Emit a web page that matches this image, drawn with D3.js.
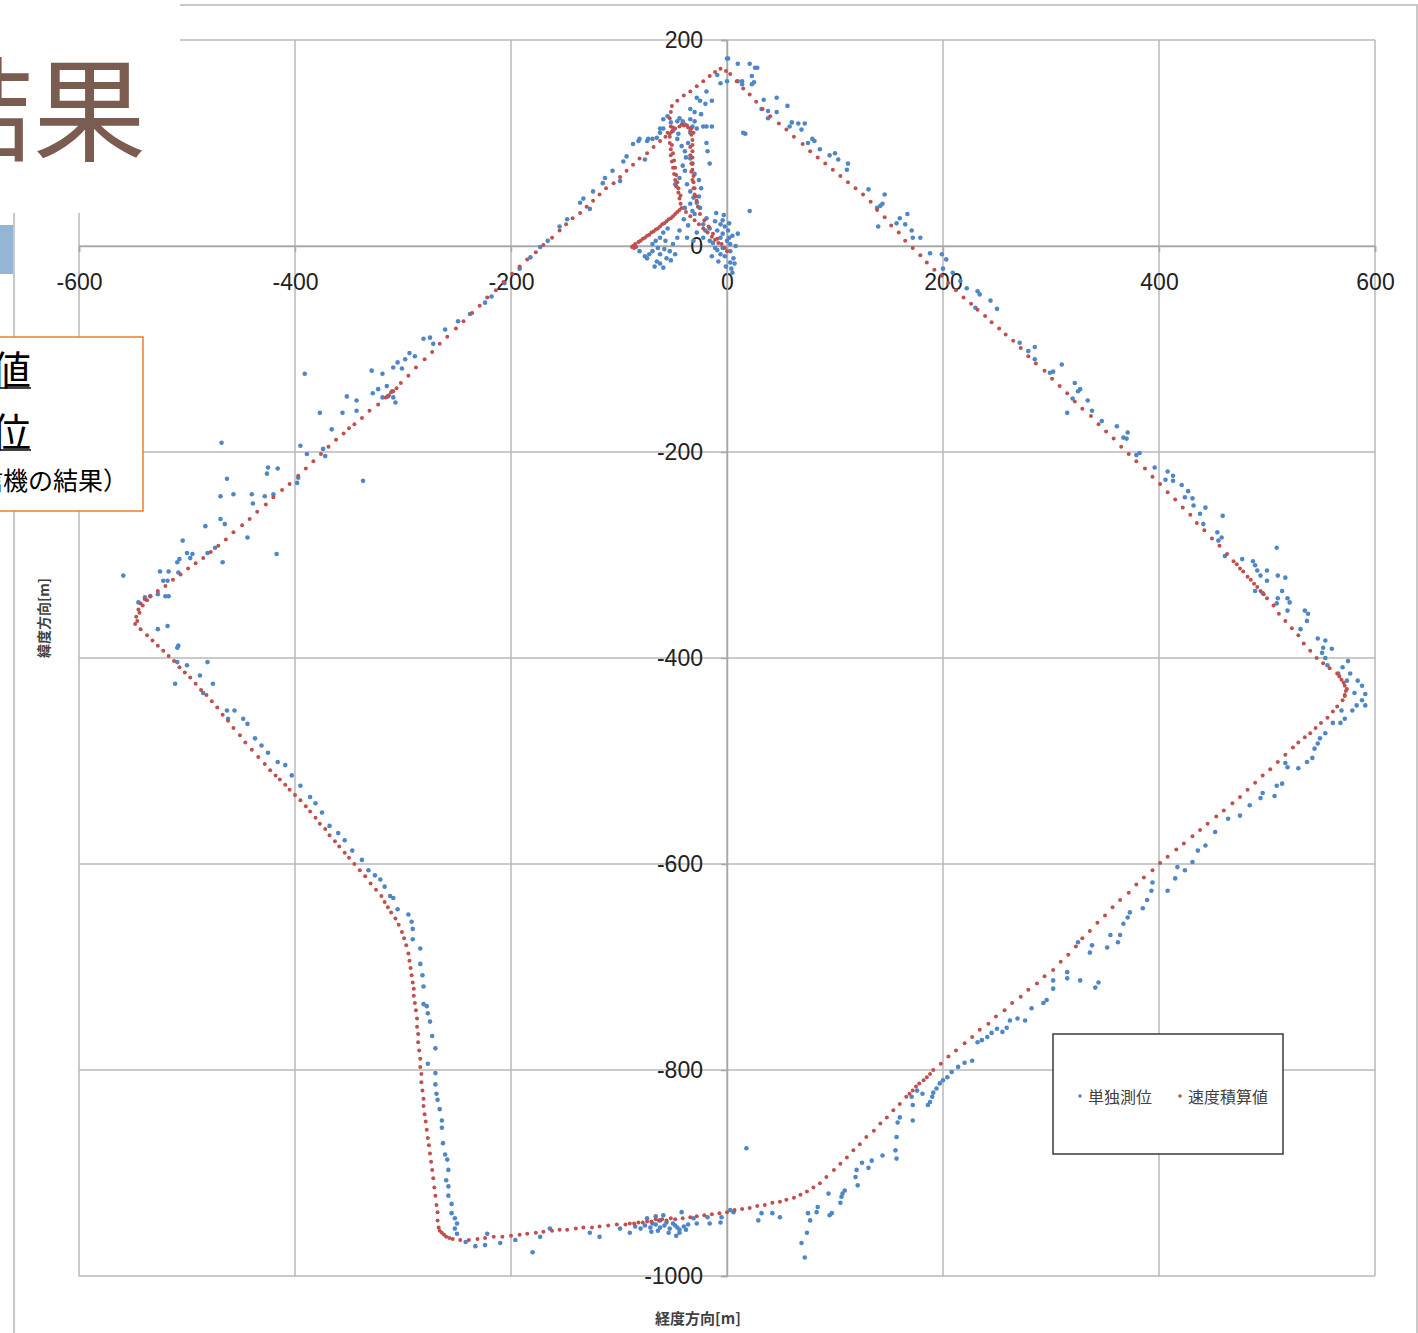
<!DOCTYPE html>
<html><head><meta charset="utf-8">
<script src="https://cdn.jsdelivr.net/npm/d3@7"></script>
<style>body{margin:0;background:#fff;}svg{display:block;}</style>
</head><body>
<svg id="chart" width="1418" height="1333"></svg>
<script>
const xTicks = [-600,-400,-200,0,200,400,600];
const yTicks = [200,0,-200,-400,-600,-800,-1000];
const seriesNames = ["単独測位","速度積算値"];
const xTitle = "経度方向[m]";
const yTitle = "緯度方向[m]";

// 単独測位 (blue)
const standalone = [
[10,177],[21,177],[28,173],[23,165],[14,160],[25,159],[34,142],[46,144],[32,133],[38,131],[46,130],[56,136],[38,124],[60,120],[66,119],[72,119],[58,116],[69,113],[17,109],[79,104],[81,102],[75,100],[86,94],[95,88],[100,90],[103,84],[112,80],[111,74],[131,55],[146,50],[142,39],[139,37],[144,41],[21,34],[160,27],[167,31],[157,22],[165,21],[140,19],[171,15],[172,8],[179,8],[10,12],[188,-7],[199,-8],[203,-13],[200,-22],[209,-26],[216,-34],[222,-41],[232,-44],[234,-47],[230,-60],[244,-53],[250,-61],[271,-94],[285,-98],[279,-102],[285,-110],[310,-115],[302,-122],[299,-123],[322,-133],[327,-139],
[325,-141],[320,-148],[334,-150],[315,-162],[338,-160],[347,-170],[361,-175],[371,-181],[367,-186],[370,-187],[382,-201],[379,-203],[396,-215],[408,-219],[413,-223],[406,-227],[413,-228],[421,-232],[427,-238],[424,-244],[431,-245],[432,-252],[443,-254],[438,-260],[459,-262],[441,-270],[454,-278],[458,-283],[455,-286],[461,-301],[477,-304],[487,-306],[489,-310],[491,-315],[494,-320],[500,-315],[509,-293],[510,-320],[517,-322],[500,-325],[489,-335],[496,-337],[514,-335],[510,-342],[519,-342],[509,-347],[521,-346],[519,-354],[535,-354],[538,-357],[537,-364],[531,-372],[547,-381],[554,-383],[552,-390],[560,-391],[551,-395],[554,-400],[575,-403],[570,-409],[556,-407],[566,-415],[577,-415],[574,-422],[584,-422],[588,-427],[581,-434],[591,-435],[588,-441],[583,-446],[591,-446],[579,-451],[569,-451],[572,-459],[561,-463],[568,-463],[554,-473],[549,-478],[547,-483],[544,-488],[542,-497],[537,-501],[529,-507],[519,-506],[517,-502],[514,-522],[509,-524],[496,-531],[494,-536],[507,-534],[484,-543],[475,-553],[464,-556],[452,-569],[443,-582],
[436,-587],[431,-598],[417,-603],[424,-606],[415,-614],[408,-626],[394,-618],[393,-626],[389,-635],[385,-643],[373,-647],[371,-652],[367,-658],[355,-669],[364,-669],[362,-676],[352,-681],[338,-679],[336,-686],[325,-676],[315,-705],[315,-711],[327,-713],[344,-715],[341,-720],[302,-713],[302,-721],[296,-732],[293,-735],[282,-740],[276,-752],[269,-750],[262,-752],[259,-759],[255,-763],[250,-760],[245,-764],[241,-768],[236,-771],[232,-773],[227,-791],[220,-793],[214,-797],[208,-802],[204,-807],[200,-810],[197,-813],[194,-818],[191,-822],[190,-826],[188,-831],[186,-834],[181,-823],[176,-820],[172,-834],[171,-826],[172,-849],[160,-846],[158,-851],[157,-865],[156,-878],[157,-886],[144,-883],[134,-888],[131,-895],[125,-890],[120,-897],[121,-912],[119,-904],[109,-917],[106,-923],[105,-929],[94,-920],[95,-941],[84,-933],[83,-938],[75,-939],[77,-946],[74,-958],[69,-968],[72,-982],
[-69,-949],[-62,-946],[-56,-948],[-50,-949],[-62,-953],[-53,-954],[-46,-953],[-44,-955],[-44,-958],[-71,-953],[-76,-951],[-59,-941],[-42,-938],[-31,-944],[-28,-949],[-16,-949],[-18,-943],[-6,-948],[-5,-943],[3,-936],[6,-938],[29,-946],[32,-939],[42,-939],[49,-943],[-118,-962],[97,-939],[107,-920],[18,-876],
[-66,-950],[-58,-951],[-48,-951],[-40,-952],[-36,-950],[-64,-956],[-70,-957],[-80,-954],[-85,-952],[-54,-958],[-47,-961],[-38,-955],[-74,-944],[-66,-942],
[-233,-971],[-224,-970],[-222,-959],[-180,-977],[-173,-962],[-164,-954],[-210,-968],[-196,-965],[-127,-958],[-99,-954],[-90,-958],[-242,-967],
[-338,-596],[-332,-606],[-326,-611],[-321,-615],[-317,-622],[-312,-631],[-309,-633],[-305,-644],[-295,-649],[-292,-656],[-291,-663],[-291,-673],[-284,-682],[-284,-697],[-282,-708],[-281,-719],[-281,-736],[-278,-738],[-277,-745],[-275,-753],[-273,-767],[-270,-779],[-277,-794],[-270,-803],[-270,-814],[-269,-823],[-268,-829],[-266,-838],[-264,-849],[-264,-856],[-263,-871],[-261,-882],[-259,-887],[-258,-897],[-260,-907],[-258,-913],[-258,-922],[-255,-930],[-255,-939],[-252,-944],[-250,-949],[-252,-954],[-250,-959],
[-527,-372],[-518,-369],[-508,-388],[-509,-390],[-509,-404],[-500,-407],[-481,-404],[-511,-425],[-488,-417],[-476,-425],[-485,-434],[-463,-451],[-456,-451],[-462,-459],[-448,-459],[-444,-464],[-437,-478],[-431,-485],[-425,-492],[-416,-501],[-409,-504],[-403,-514],[-395,-524],[-386,-535],[-381,-541],[-375,-550],[-368,-563],[-360,-570],[-354,-577],[-347,-587],
[-559,-320],[-545,-346],[-539,-341],[-534,-340],[-527,-338],[-520,-340],[-517,-340],[-525,-316],[-517,-316],[-508,-317],[-522,-325],[-518,-325],[-509,-307],[-507,-304],[-504,-286],[-500,-298],[-495,-299],[-497,-303],[-483,-272],[-469,-265],[-465,-270],[-474,-293],[-481,-298],[-467,-307],[-444,-283],[-440,-241],[-439,-250],[-457,-241],[-463,-226],[-469,-243],[-428,-243],[-420,-241],[-425,-215],[-426,-221],[-416,-216],[-417,-299],[-468,-191],[-395,-194],[-389,-202],[-372,-204],[-374,-197],[-398,-230],[-397,-225],[-391,-124],[-377,-162],[-366,-178],[-356,-162],[-352,-146],[-343,-150],[-343,-160],[-337,-228],[-329,-121],[-328,-143],[-323,-139],[-319,-124],[-315,-136],[-310,-141],[-309,-147],[-307,-152],[-314,-146],[-319,-147],[-309,-118],[-305,-113],[-301,-119],[-294,-104],[-298,-110],[-289,-107],[-281,-90],[-275,-89],[-272,-95],
[-261,-81],[-249,-73],[-238,-66],[-224,-55],[-218,-49],[-206,-36],[-192,-22],[-182,-11],[-173,-1],[-166,5],
[-155,19],[-148,26],[-136,42],[-133,46],[-124,53],[-115,61],[-113,66],[-106,73],[-96,82],[-93,87],[-87,99],[-82,102],[-81,104],[-73,104],[-65,105],[-62,114],[-59,123],[-127,36],[-99,63],[-76,84],
[1,182],[-9,166],[-6,158],[0,160],[10,160],[14,157],[23,157],[-19,150],[-28,144],[-25,141],[-14,141],[-20,138],[-34,133],[-44,124],[-46,121],[-41,121],[-34,123],[-30,121],[-39,118],[-32,116],[-28,114],[-22,116],[-14,116],[-59,114],[-62,110],[-50,112],[-45,109],[-34,110],[-69,104],[-74,102],[-19,100],[-18,92],[-16,80],[-42,97],[-39,92],[-34,85],[-32,80],[-30,70],[-39,73],[-44,66],[-48,60],[-37,60],[-34,53],[-31,47],[-28,42],[-34,41],[-39,37],[-32,34],[-30,31],[-25,37],[-19,27],[-22,21],[-16,17],[-9,15],[-6,21],[-4,12],[-6,8],[0,5],[3,2],[-4,-2],[3,-5],[6,-12],[7,-17],[-6,-8],[-11,-2],[-16,5],[-22,8],[-28,13],[-31,5],[-37,8],[-44,15],[-46,8],[-50,2],[-53,-5],[-56,-12],[-62,-8],[-65,-15],[-69,-5],[-69,2],[-62,8],[-59,13],[-55,17],[-62,-17],[-59,-21],[-74,-12],[15,110],[-19,116],[-81,-5],[-76,-10],[-2,19],[1,15],[5,10],[-2,-10],[3,-16],[-8,-15],[-14,-10],[8,0],[-11,24],[-20,15],[0,182],[26,173],
[-58,-3],[-64,-2],[-72,-8],[-67,-20],[-52,-14],[-48,-8],[-57,5],[-66,5],[-4,25],[2,22],[4,-22],[-1,-20],[5,-26],[-9,-4],[-13,3],[2,8],[-3,30],[-10,32],[-36,20],[-40,26],[-26,48],[-24,56],[-26,64],[-41,78],[-38,86],[-36,100],[-46,104],[-52,120],[-55,126],[-30,130],[-24,128]
];

// 速度積算値 (red)
const integrated = [
[-548,-367],[-547,-360],[-545,-353],[-543,-347],[-539,-343],[-534,-340],[-527,-335],[-520,-330],[-513,-324],[-506,-319],[-499,-313],[-492,-308],[-485,-303],[-478,-297],[-471,-291],[-464,-285],[-457,-278],[-449,-271],[-442,-265],[-435,-258],[-427,-251],[-420,-244],[-412,-237],[-405,-231],[-397,-223],[-390,-216],[-383,-209],[-376,-202],[-369,-195],[-362,-188],[-355,-182],[-350,-177],[-345,-173],[-338,-167],[-331,-160],[-323,-154],[-316,-147],[-309,-141],[-302,-133],[-295,-126],[-288,-118],[-280,-110],[-273,-103],[-266,-95],[-259,-88],[-251,-80],[-244,-73],[-236,-65],[-229,-58],[-222,-50],[-214,-43],[-207,-35],[-199,-27],[-192,-20],[-185,-13],[-177,-6],[-170,1],[-162,8],[-155,15],[-149,21],[-143,27],[-136,32],[-130,38],[-124,44],[-118,50],[-112,56],[-105,61],[-99,67],[-93,73],[-87,79],[-81,85],[-74,90],[-68,96],[-62,102],[-57,106],[-53,109],
[-313,-145],[-306,-138],[-311,-142],[-546,-364],[-544,-356],[-541,-349],[-537,-344],
[-52,116],[-53,124],[-52,130],[-51,136],[-46,141],[-40,146],[-34,150],[-28,155],[-22,160],[-16,165],[-11,169],[-6,172],
[-1,170],[3,167],[9,160],[15,153],[21,147],[27,140],[33,133],[40,126],[48,119],[55,113],[62,106],[70,99],[77,92],[84,86],[91,80],[98,74],[105,68],[112,62],[119,56],[126,50],[133,43],[139,35],[146,28],[152,20],[159,13],[165,5],[172,-2],[179,-9],[185,-16],[192,-23],[199,-29],[205,-36],[212,-43],[219,-50],[226,-56],[232,-62],[239,-68],[245,-74],[252,-80],[258,-86],[265,-92],[272,-99],[279,-107],[286,-114],[294,-121],[301,-129],[308,-136],[315,-143],[322,-151],[329,-158],[337,-165],[344,-173],[351,-180],[358,-187],[365,-195],[372,-202],[379,-209],[387,-216],[394,-224],[401,-231],[408,-239],[415,-246],[422,-254],[429,-261],[435,-269],[442,-276],[449,-284],[456,-291],[463,-299],[469,-306],[475,-313],[482,-321],[488,-328],[494,-335],[500,-342],[506,-349],[511,-357],[517,-364],[523,-371],[529,-378],[534,-386],[540,-393],[546,-400],[552,-405],[558,-410],[565,-415],[569,-421],[572,-427],[573,-432],
[478,-316],[485,-324],[491,-331],[472,-309],[497,-338],[567,-418],[571,-424],[574,-430],[572,-436],
[572,-437],[570,-441],[565,-447],[561,-452],[556,-458],[550,-463],[545,-468],[540,-473],[535,-477],[529,-482],[524,-487],[517,-494],[510,-501],[503,-508],[496,-514],[489,-521],[482,-528],[475,-535],[468,-541],[460,-548],[453,-554],[445,-561],[438,-567],[431,-573],[423,-580],[416,-586],[408,-593],[401,-599],[394,-606],[386,-613],[379,-620],[372,-628],[364,-635],[357,-642],[350,-650],[343,-657],[336,-665],[329,-672],[323,-680],[316,-688],[309,-695],[302,-703],[294,-709],[287,-716],[279,-722],[272,-729],[264,-735],[257,-742],[249,-748],[242,-755],[234,-761],[227,-768],[220,-774],[212,-781],[205,-787],[198,-794],[191,-800],[185,-807],[178,-813],[172,-820],[166,-826],[160,-833],[154,-839],[148,-846],[142,-852],[136,-859],[129,-865],[123,-872],[117,-878],[111,-885],[105,-891],[99,-897],[92,-904],[86,-910],[80,-914],[74,-918],[68,-921],[62,-924],[55,-926],[49,-928],
[188,-804],[182,-810],[175,-816],[169,-823],
[42,-929],[35,-931],[28,-932],[21,-934],[14,-935],[7,-936],[0,-938],[-7,-939],[-14,-940],[-21,-941],[-28,-942],[-34,-943],[-41,-944],[-48,-945],[-56,-946],[-63,-946],[-70,-947],[-78,-948],[-86,-949],[-94,-950],[-102,-950],[-110,-951],[-118,-952],[-125,-953],[-133,-953],[-140,-954],[-148,-955],[-155,-955],[-162,-956],[-170,-957],[-177,-958],[-185,-959],[-192,-960],[-200,-961],[-208,-962],[-216,-962],[-224,-963],[-231,-964],[-239,-965],[-247,-965],[-254,-964],[-260,-962],
[-52,-944],[-60,-945],[-66,-945],[-74,-947],[-82,-948],[-90,-949],[-262,-960],[-266,-956],[-257,-963],
[-264,-958],[-267,-953],[-268,-946],[-268,-938],[-269,-931],[-270,-922],[-271,-914],[-272,-905],[-273,-897],[-274,-889],[-275,-881],[-276,-873],[-277,-866],[-278,-858],[-279,-850],[-280,-843],[-281,-835],[-281,-828],[-282,-820],[-283,-812],[-283,-804],[-284,-797],[-284,-789],[-285,-781],[-286,-773],[-286,-765],[-287,-758],[-287,-750],[-288,-742],[-289,-735],[-290,-728],[-290,-721],[-291,-715],[-292,-708],[-293,-701],[-294,-694],[-295,-687],[-297,-679],[-299,-672],[-301,-666],[-304,-659],[-307,-653],[-311,-647],[-314,-642],[-317,-637],[-320,-631],[-325,-625],[-330,-619],[-335,-612],[-340,-606],[-345,-600],[-350,-594],[-354,-589],[-359,-583],[-363,-578],[-368,-572],[-372,-566],[-377,-561],[-381,-555],[-386,-549],[-390,-544],[-395,-538],[-400,-533],[-405,-528],[-409,-523],[-414,-518],[-418,-514],[-423,-509],[-428,-503],[-434,-496],[-440,-489],[-446,-482],[-451,-475],[-457,-468],[-462,-461],[-467,-455],[-472,-448],[-477,-442],[-482,-436],[-487,-431],[-492,-425],[-497,-419],[-502,-414],[-507,-409],[-512,-403],[-517,-398],[-522,-393],[-527,-388],[-532,-383],[-537,-378],[-543,-372],
[-53,106],[-51,111],[-48,114],[-44,116],[-40,117],[-36,115],[-34,112],[-33,108],[-32,103],[-32,98],[-32,92],[-32,86],[-32,80],[-32,74],[-31,68],[-31,62],[-30,56],[-30,50],[-28,44],[-27,38],[-25,31],[-21,25],[-17,19],[-13,12],[-9,7],[-5,2],[-2,-2],[0,-5],[-34,96],[-34,88],[-33,80],[-33,72],[-32,64],[-31,56],[-29,48],[-53,100],[-52,94],[-52,88],[-51,82],[-50,76],[-49,70],[-48,64],[-47,58],[-45,52],[-44,46],[-43,41],[-42,37],[-51,98],[-50,90],[-49,83],[-48,76],[-47,69],[-46,62],[-45,56],[-43,49],[-46,33],[-50,29],[-54,26],[-58,22],[-62,19],[-66,16],[-70,13],[-74,10],[-78,7],[-82,4],[-85,2],[-87,0],[-88,-1],[-86,-2],[-84,-1],[-44,35],[-48,31],[-52,27],[-56,24],[-60,21],[-64,17],[-68,14],[-72,11],[-76,8],[-80,5],[-38,33],[-34,29],[-30,25],[-26,21],[-22,17],[-18,13],[-14,9],[-11,6],[-8,3],[-55,110],[-50,115],[-42,118],[-37,117],[-33,114],[-31,110]
];

const svg = d3.select("#chart");
const x = d3.scaleLinear().domain([-600,600]).range([79,1375]);
const y = d3.scaleLinear().domain([200,-1000]).range([40,1276]);
const GRID = "#b9b9b9";

// outer chart frame
svg.append("rect").attr("x",14).attr("y",5).attr("width",1403).attr("height",1345)
  .attr("fill","#fff").attr("stroke","#c8c8c8").attr("stroke-width",2);

// grid
svg.append("g").selectAll("line").data(xTicks).join("line")
  .attr("x1",d=>x(d)).attr("x2",d=>x(d)).attr("y1",y(200)).attr("y2",y(-1000))
  .attr("stroke",GRID).attr("stroke-width",1.5);
svg.append("g").selectAll("line").data(yTicks).join("line")
  .attr("y1",d=>y(d)).attr("y2",d=>y(d)).attr("x1",x(-600)).attr("x2",x(600))
  .attr("stroke",GRID).attr("stroke-width",1.5);

// axes crossing at 0
const fontNum = "'Liberation Sans', Arial, sans-serif";
const fmt = d => String(d);
const xAxis = svg.append("g").attr("transform",`translate(0,${y(0)})`)
  .call(d3.axisBottom(x).tickValues(xTicks).tickSize(6).tickPadding(22).tickFormat(fmt));
const yAxis = svg.append("g").attr("transform",`translate(${x(0)},0)`)
  .call(d3.axisLeft(y).tickValues(yTicks).tickSize(6).tickPadding(18).tickFormat(fmt));
[xAxis,yAxis].forEach(g=>{
  g.select(".domain").attr("stroke","#a8a8a8").attr("stroke-width",1.5);
  g.selectAll(".tick line").attr("stroke","#a8a8a8").attr("stroke-width",1.5);
  g.selectAll(".tick text").attr("font-family",fontNum).attr("font-size",23).attr("fill","#222");
});

// points
svg.append("g").selectAll("circle").data(standalone).join("circle")
  .attr("cx",d=>x(d[0])).attr("cy",d=>y(d[1])).attr("r",2.3).attr("fill","#4f86c6");
svg.append("g").selectAll("circle").data(integrated).join("circle")
  .attr("cx",d=>x(d[0])).attr("cy",d=>y(d[1])).attr("r",2).attr("fill","#c0504d");

// axis titles
const fontJP = "'Noto Sans CJK JP', 'Noto Sans', sans-serif";
svg.append("text").attr("x",698).attr("y",1317).attr("text-anchor","middle").attr("dominant-baseline","central")
  .attr("font-family",fontJP).attr("font-weight","bold").attr("font-size",15).attr("fill","#404040").text(xTitle);
svg.append("text").attr("transform","translate(43,618) rotate(-90)").attr("text-anchor","middle").attr("dominant-baseline","central")
  .attr("font-family",fontJP).attr("font-weight","bold").attr("font-size",14).attr("fill","#404040").text(yTitle);

// legend
const lg = svg.append("g");
lg.append("rect").attr("x",1053).attr("y",1034).attr("width",230).attr("height",120)
  .attr("fill","#fff").attr("stroke","#3a3a3a").attr("stroke-width",1.5);
const legendItems = [{name:seriesNames[0],color:"#4f86c6",cx:1080},{name:seriesNames[1],color:"#c0504d",cx:1180}];
legendItems.forEach(it=>{
  lg.append("circle").attr("cx",it.cx).attr("cy",1096).attr("r",1.8).attr("fill",it.color);
  lg.append("text").attr("x",it.cx+8).attr("y",1096).attr("dominant-baseline","central")
    .attr("font-family",fontJP).attr("font-size",16).attr("fill","#404040").text(it.name);
});

// slide overlay (title area, accent bar, note box)
svg.append("rect").attr("x",0).attr("y",0).attr("width",180).attr("height",213).attr("fill","#fff");
svg.append("text").attr("x",-80).attr("y",152).attr("font-family",fontJP).attr("font-size",113)
  .attr("fill","#7a5c50").text("結果");
svg.append("rect").attr("x",0).attr("y",225).attr("width",13).attr("height",49).attr("fill","#94b6d4");
svg.append("rect").attr("x",-10).attr("y",337).attr("width",153).attr("height",174)
  .attr("fill","#fff").attr("stroke","#ed7d31").attr("stroke-width",1.5);
svg.append("text").attr("x",31).attr("y",385).attr("text-anchor","end").attr("font-family",fontJP)
  .attr("font-size",40).attr("fill","#000").text("赤：速度積算値");
svg.append("line").attr("x1",-5).attr("x2",31).attr("y1",388).attr("y2",388).attr("stroke","#000").attr("stroke-width",1.5);
svg.append("text").attr("x",31).attr("y",447).attr("text-anchor","end").attr("font-family",fontJP)
  .attr("font-size",40).attr("fill","#000").text("青：単独測位");
svg.append("line").attr("x1",-5).attr("x2",31).attr("y1",450).attr("y2",450).attr("stroke","#000").attr("stroke-width",1.5);
svg.append("text").attr("x",128).attr("y",490).attr("text-anchor","end").attr("font-family",fontJP)
  .attr("font-size",25).attr("fill","#000").text("（GPS受信機の結果）");
</script>
</body></html>
